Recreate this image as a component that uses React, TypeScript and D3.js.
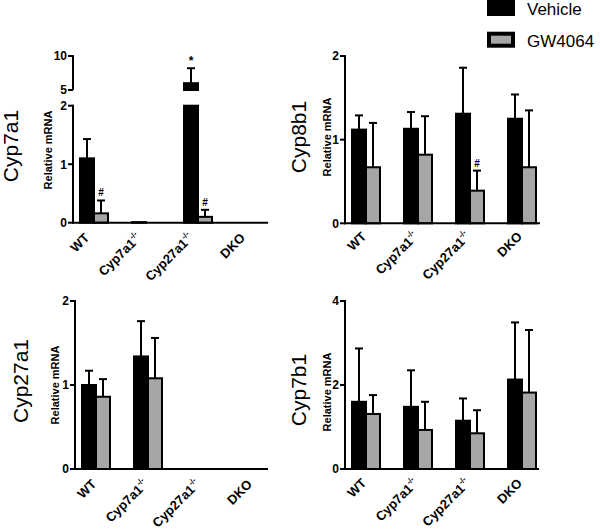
import React from "react";
import * as d3 from "d3";

const categories = ["WT", "Cyp7a1", "Cyp27a1", "DKO"];
const categorySup = ["", "-/-", "-/-", ""];
const seriesNames = ["Vehicle", "GW4064"];

const cyp7a1Vehicle = [1.1, 0.01, 6.0, 0];
const cyp7a1VehicleErr = [0.33, 0, 2.2, 0];
const cyp7a1GW = [0.16, 0, 0.1, 0];
const cyp7a1GWErr = [0.22, 0, 0.12, 0];

const cyp8b1Vehicle = [1.12, 1.13, 1.31, 1.25];
const cyp8b1VehicleErr = [0.17, 0.2, 0.55, 0.29];
const cyp8b1GW = [0.67, 0.82, 0.39, 0.67];
const cyp8b1GWErr = [0.53, 0.46, 0.24, 0.68];

const cyp27a1Vehicle = [1.0, 1.34, 0, 0];
const cyp27a1VehicleErr = [0.17, 0.42, 0, 0];
const cyp27a1GW = [0.86, 1.08, 0, 0];
const cyp27a1GWErr = [0.21, 0.48, 0, 0];

const cyp7b1Vehicle = [1.6, 1.48, 1.15, 2.13];
const cyp7b1VehicleErr = [1.27, 0.87, 0.53, 1.36];
const cyp7b1GW = [1.31, 0.93, 0.85, 1.82];
const cyp7b1GWErr = [0.45, 0.67, 0.55, 1.49];

const cyp7a1Ticks = [[0, 1, 2], [5, 10]];
const cyp8b1Ticks = [0, 1, 2];
const cyp27a1Ticks = [0, 1, 2];
const cyp7b1Ticks = [0, 2, 4];

// significance markers: [groupIndex, seriesIndex, symbol]
const cyp7a1Marks: [number, number, string][] = [[0, 1, "#"], [2, 0, "*"], [2, 1, "#"]];
const cyp8b1Marks: [number, number, string][] = [[2, 1, "#"]];

const FONT = "'Liberation Sans', Arial, sans-serif";
const GREY = "#a6a6a6";

type Seg = { scale: d3.ScaleLinear<number, number>; ticks: number[] };

function Panel(props: {
  axisX: number;
  axisLen: number;
  segs: Seg[];
  vals: number[][];
  errs: number[][];
  marks: [number, number, string][];
  title: string;
  titleX: number;
  titleY: number;
  ylabX: number;
  ylabY: number;
  labelDx: number;
  labelDy: number;
}) {
  const { axisX, axisLen, segs, vals, errs, marks } = props;
  const base = segs[0].scale;
  const axisY = base(0);
  const x = d3.scaleBand<string>().domain(categories).range([axisX - 5, axisX - 5 + 52 * 4]).padding(0);
  const sub = d3.scaleBand<string>().domain(seriesNames).range([-14, 14]).padding(0);
  const fills = ["#000", GREY];

  const segFor = (v: number) => {
    for (let i = segs.length - 1; i >= 0; i--) {
      if (v >= segs[i].scale.domain()[0]) return segs[i];
    }
    return segs[0];
  };

  const bars: React.ReactNode[] = [];
  const errNodes: React.ReactNode[] = [];
  const markNodes: React.ReactNode[] = [];
  categories.forEach((c, gi) => {
    const cx = (x(c) as number) + x.bandwidth() / 2;
    seriesNames.forEach((s, si) => {
      const v = vals[si][gi];
      const e = errs[si][gi];
      const bx = cx + (sub(s) as number);
      const bw = sub.bandwidth();
      if (v > 0) {
        segs.forEach((sg, k) => {
          const [d0, d1] = sg.scale.domain();
          if (v > d0 || (k === 0 && v > 0)) {
            const top = sg.scale(Math.min(v, d1));
            const bot = sg.scale(d0);
            bars.push(
              <rect key={`b${gi}-${si}-${k}`} x={bx} y={top} width={bw} height={Math.max(bot - top, 0.5)}
                fill={fills[si]} stroke="#000" strokeWidth={2} />
            );
          }
        });
      }
      const sg = segFor(v);
      const ymid = bx + bw / 2;
      if (e > 0) {
        const y1 = sg.scale(v);
        const y2 = sg.scale(v + e);
        errNodes.push(
          <g key={`e${gi}-${si}`} stroke="#000" strokeWidth={2}>
            <line x1={ymid} x2={ymid} y1={y1} y2={y2} />
            <line x1={ymid - 4} x2={ymid + 4} y1={y2} y2={y2} />
          </g>
        );
      }
      marks.forEach(([mg, ms, sym], mi) => {
        if (mg === gi && ms === si) {
          const yt = sg.scale(v + e);
          markNodes.push(
            <text key={`m${mi}`} x={ymid} y={yt - (sym === "*" ? 3 : 4)} textAnchor="middle"
              fontSize={sym === "*" ? 12 : 10} fontWeight="bold" fontFamily={FONT}>{sym}</text>
          );
        }
      });
    });
  });

  return (
    <g>
      {bars}
      {errNodes}
      {markNodes}
      {segs.map((sg, k) => {
        const [r0, r1] = sg.scale.range();
        return (
          <g key={`ax${k}`}>
            <line x1={axisX} x2={axisX} y1={r0 + (k === 0 ? 1 : 0)} y2={r1 - 1} stroke="#000" strokeWidth={2} />
            {sg.ticks.map((t) => (
              <g key={t}>
                <line x1={axisX - 5} x2={axisX} y1={sg.scale(t)} y2={sg.scale(t)} stroke="#000" strokeWidth={2} />
                <text x={axisX - 6} y={sg.scale(t)} dy="0.36em" textAnchor="end" fontSize={12}
                  fontWeight="bold" fontFamily={FONT}>{t}</text>
              </g>
            ))}
          </g>
        );
      })}
      <line x1={axisX - 1} x2={axisX + axisLen} y1={axisY} y2={axisY} stroke="#000" strokeWidth={2} />
      {categories.map((c, gi) => {
        const cx = (x(c) as number) + x.bandwidth() / 2;
        const ax = cx + props.labelDx;
        const ay = axisY + props.labelDy;
        return (
          <g key={c} transform={`translate(${ax},${ay}) rotate(-45)`}>
            <text x={0} y={0} textAnchor="end" fontSize={13} fontWeight="bold" fontFamily={FONT}>
              {c}
              {categorySup[gi] ? <tspan fontSize={8} dy={-6}>{categorySup[gi]}</tspan> : null}
            </text>
          </g>
        );
      })}
      <g transform={`translate(${props.ylabX},${props.ylabY}) rotate(-90)`}>
        <text x={0} y={0} textAnchor="middle" fontSize={11} fontWeight="bold" fontFamily={FONT}>Relative mRNA</text>
      </g>
      <g transform={`translate(${props.titleX},${props.titleY}) rotate(-90)`}>
        <text x={0} y={0} textAnchor="middle" fontSize={21} fontFamily={FONT}>{props.title}</text>
      </g>
    </g>
  );
}

export default function App() {
  const p1Low = d3.scaleLinear().domain([0, 2]).range([222.7, 105.7]);
  const p1High = d3.scaleLinear().domain([5, 10]).range([90, 56]);
  const p2 = d3.scaleLinear().domain([0, 2]).range([223.3, 56]);
  const p3 = d3.scaleLinear().domain([0, 2]).range([469, 301]);
  const p4 = d3.scaleLinear().domain([0, 4]).range([469, 301]);

  return (
    <svg width={600} height={532} style={{ position: "absolute", left: 0, top: 0, background: "#fff" }}>
      <rect x={0} y={0} width={600} height={532} fill="#fff" />
      <Panel axisX={73} axisLen={195}
        segs={[{ scale: p1Low, ticks: cyp7a1Ticks[0] }, { scale: p1High, ticks: cyp7a1Ticks[1] }]}
        vals={[cyp7a1Vehicle, cyp7a1GW]} errs={[cyp7a1VehicleErr, cyp7a1GWErr]} marks={cyp7a1Marks}
        title="Cyp7a1" titleX={18} titleY={146} ylabX={52} ylabY={150} labelDx={-4} labelDy={16} />
      <Panel axisX={345} axisLen={195}
        segs={[{ scale: p2, ticks: cyp8b1Ticks }]}
        vals={[cyp8b1Vehicle, cyp8b1GW]} errs={[cyp8b1VehicleErr, cyp8b1GWErr]} marks={cyp8b1Marks}
        title="Cyp8b1" titleX={306} titleY={137} ylabX={331} ylabY={137} labelDx={1} labelDy={14} />
      <Panel axisX={75} axisLen={193}
        segs={[{ scale: p3, ticks: cyp27a1Ticks }]}
        vals={[cyp27a1Vehicle, cyp27a1GW]} errs={[cyp27a1VehicleErr, cyp27a1GWErr]} marks={[]}
        title="Cyp27a1" titleX={28} titleY={381} ylabX={59} ylabY={385} labelDx={1} labelDy={16} />
      <Panel axisX={345} axisLen={194}
        segs={[{ scale: p4, ticks: cyp7b1Ticks }]}
        vals={[cyp7b1Vehicle, cyp7b1GW]} errs={[cyp7b1VehicleErr, cyp7b1GWErr]} marks={[]}
        title="Cyp7b1" titleX={306} titleY={390} ylabX={331} ylabY={392} labelDx={1} labelDy={15} />
      <rect x={487} y={-2} width={28} height={18} fill="#000" />
      <text x={527} y={14.5} fontSize={17} fontFamily={FONT}>{seriesNames[0]}</text>
      <rect x={489} y={33.7} width={24} height={12} fill={GREY} stroke="#000" strokeWidth={4} />
      <text x={527} y={46.5} fontSize={17} fontFamily={FONT}>{seriesNames[1]}</text>
    </svg>
  );
}
